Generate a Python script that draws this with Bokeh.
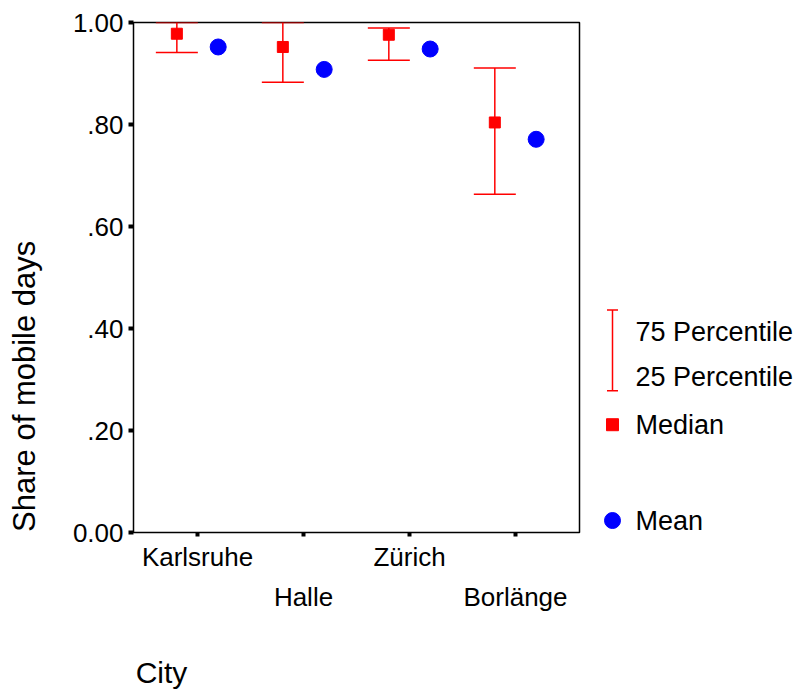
from bokeh.plotting import figure
from bokeh.models import (Range1d, FixedTicker, LinearAxis, Whisker, TeeHead,
                          ColumnDataSource)
from bokeh.layouts import row
from bokeh.core.properties import value
from bokeh.embed import file_html
from bokeh.resources import INLINE

# ---- data ----
cities = ["Karlsruhe", "Halle", "Zürich", "Borlänge"]
p75 = [1.000, 1.000, 0.989, 0.911]
p25 = [0.941, 0.883, 0.926, 0.663]
median = [0.978, 0.952, 0.976, 0.804]
mean = [0.952, 0.908, 0.948, 0.771]

y_ticks = [0.0, 0.2, 0.4, 0.6, 0.8, 1.0]
y_tick_labels = ["0.00", ".20", ".40", ".60", ".80", "1.00"]
legend_labels = ["75 Percentile", "25 Percentile", "Median", "Mean"]
y_title = "Share of mobile days"
x_title = "City"

FONT = "Liberation Sans"
RED = "#FF0000"
BLUE = "#0000FF"
OFF = 0.195
X0, X1 = 0.396, 4.604
FRAME_W, FRAME_H = 446, 511

pos = list(range(1, len(cities) + 1))
src = ColumnDataSource(dict(
    xm=[i - OFF for i in pos],
    xa=[i + OFF for i in pos],
    p75=p75, p25=p25, median=median, mean=mean,
))

p = figure(width=581, height=691, x_range=Range1d(X0, X1),
           y_range=Range1d(0, 1), output_backend="svg", toolbar_location=None,
           min_border_left=133, min_border_right=2, min_border_top=22,
           min_border_bottom=158)
p.grid.grid_line_color = None
p.outline_line_color = "black"
p.outline_line_width = 1.5
p.background_fill_color = "white"
p.border_fill_color = "white"


def style_axis(ax, size):
    ax.minor_tick_line_color = None
    ax.major_tick_in = 0
    ax.axis_line_color = None
    ax.major_label_text_font = FONT
    ax.major_label_text_font_size = size
    ax.major_label_text_color = "black"


# y axis
ya = p.yaxis[0]
style_axis(ya, "26px")
ya.ticker = FixedTicker(ticks=y_ticks)
ya.major_label_overrides = dict(zip(y_ticks, y_tick_labels))
ya.major_tick_out = 5
ya.major_tick_line_width = 4

# y title: left-aligned with the bottom of the frame (as in the reference)
title_len_px = 293
y_title_pos = (title_len_px / 2) / FRAME_H
yt = LinearAxis(ticker=FixedTicker(ticks=[y_title_pos]),
                major_label_overrides={y_title_pos: y_title},
                major_label_orientation="vertical")
style_axis(yt, "31px")
yt.major_tick_line_color = None
yt.major_tick_out = 0
yt.major_label_standoff = 27
p.add_layout(yt, "left")

# x axis, first row of labels
xa = p.xaxis[0]
style_axis(xa, "26px")
xa.ticker = FixedTicker(ticks=pos)
xa.major_label_overrides = {i: (c if k % 2 == 0 else "") for k, (i, c) in enumerate(zip(pos, cities))}
xa.major_tick_out = 4
xa.major_tick_line_width = 4
xa.major_label_standoff = 5

# x axis, second (staggered) row of labels
pos2 = [i for k, i in enumerate(pos) if k % 2 == 1]
xb = LinearAxis(ticker=FixedTicker(ticks=pos2),
                major_label_overrides={i: c for k, (i, c) in enumerate(zip(pos, cities)) if k % 2 == 1})
style_axis(xb, "26px")
xb.major_tick_line_color = None
xb.major_tick_out = 0
xb.major_label_standoff = 7
p.add_layout(xb, "below")

# x title: left-aligned near the frame's left edge
x_title_pos = X0 + 28 * (X1 - X0) / FRAME_W
xt = LinearAxis(ticker=FixedTicker(ticks=[x_title_pos]),
                major_label_overrides={x_title_pos: x_title})
style_axis(xt, "30px")
xt.major_tick_line_color = None
xt.major_tick_out = 0
xt.major_label_standoff = 41
p.add_layout(xt, "below")

# error bars (25-75 percentile)
wh = Whisker(source=src, base="xm", upper="p75", lower="p25",
             line_color=RED, line_width=1.5,
             upper_head=TeeHead(size=42, line_color=RED, line_width=1.5),
             lower_head=TeeHead(size=42, line_color=RED, line_width=1.5))
p.add_layout(wh)
p.scatter(x="xm", y="median", source=src, marker="square", size=11,
          fill_color=RED, line_color=RED)
p.scatter(x="xa", y="mean", source=src, marker="circle", size=16,
          fill_color=BLUE, line_color=BLUE)

# ---- legend panel (its frame is aligned with the main frame: 22..533 px) ----
leg = figure(width=214, height=691, x_range=Range1d(0, 214),
             y_range=Range1d(533, 22), output_backend="svg",
             toolbar_location=None, min_border=0, title=None,
             x_axis_location=None, y_axis_location=None)
leg.grid.grid_line_color = None
leg.outline_line_color = None
sym_x = 31
txt_x = 54
lsrc = ColumnDataSource(dict(x=[sym_x], lo=[310], hi=[391]))
leg.add_layout(Whisker(source=lsrc, base="x", upper="hi", lower="lo",
                       line_color=RED, line_width=1.5,
                       upper_head=TeeHead(size=11, line_color=RED, line_width=1.5),
                       lower_head=TeeHead(size=11, line_color=RED, line_width=1.5)))
leg.scatter(x=[sym_x], y=[425], marker="square", size=12, fill_color=RED, line_color=RED)
leg.scatter(x=[sym_x], y=[521], marker="circle", size=16, fill_color=BLUE, line_color=BLUE)
leg.text(x=[txt_x] * 4, y=[332, 377, 425, 521], text=legend_labels,
         text_baseline="middle", text_align="left",
         text_font=value(FONT), text_font_size="27px", text_color="black")

layout = row(p, leg)
open("out.html", "w").write(file_html(layout, INLINE))
